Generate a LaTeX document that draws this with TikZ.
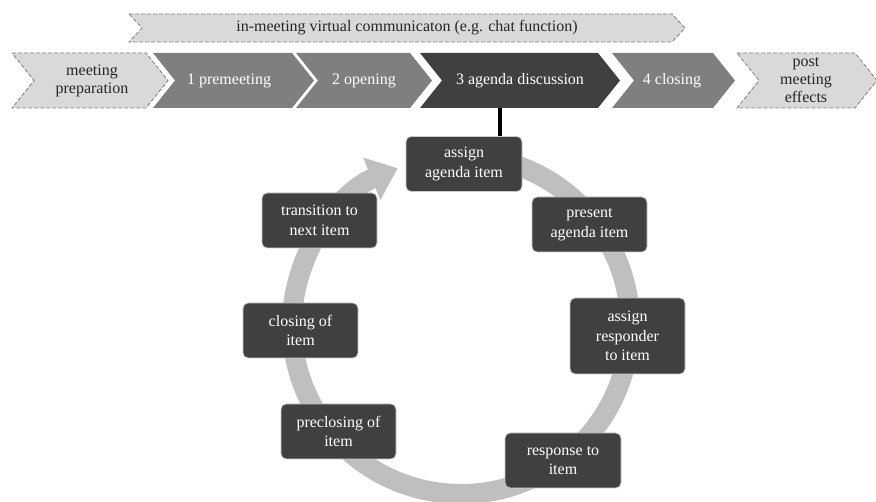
\documentclass[tikz,border=0pt]{standalone}
\usepackage{fontspec}
\setmainfont{Liberation Serif}
\usetikzlibrary{arrows.meta}
\definecolor{lightg}{HTML}{D9D9D9}
\definecolor{midg}{HTML}{7F7F7F}
\definecolor{darkg}{HTML}{404040}
\definecolor{ringg}{HTML}{BFBFBF}
\definecolor{txtdark}{HTML}{262626}
\newcommand{\mychev}[3]{%
  \path[#1] (#2,449) -- (#3,449) -- ({#3+22},421.5) -- (#3,394) -- (#2,394) -- ({#2+22},421.5) -- cycle;}
\begin{document}
\begin{tikzpicture}[x=1pt,y=1pt,
  stepbox/.style={draw=white!80!black, line width=0.8pt, fill=darkg, rounded corners=5pt,
    text=white, minimum width=115pt, minimum height=55pt, align=center,
    font=\fontsize{16}{19.5}\selectfont, inner sep=0pt},
  chevtext/.style={align=center, font=\fontsize{16}{18}\selectfont, inner sep=0pt},
  lightchev/.style={fill=lightg, draw=midg, line width=0.8pt, dash pattern=on 4pt off 2pt},
  midchev/.style={fill=midg},
  darkchev/.style={fill=darkg},
  ring/.style={draw=ringg, line width=20pt}]
\useasboundingbox (0,0) rectangle (876,502);

% top banner
\path[lightchev] (129,488) -- (672,488) -- (685,474) -- (672,460) -- (129,460) -- (142,474) -- cycle;
\node[chevtext, text=txtdark] (chat) at (407,474) {in-meeting virtual communicaton (e.g. chat function)};

% process row
\mychev{lightchev}{12}{146}
\mychev{midchev}{153}{292}
\mychev{midchev}{296}{410}
\mychev{darkchev}{420}{598}
\mychev{midchev}{612}{713}
\mychev{lightchev}{737}{855}

\node[chevtext, text=txtdark] (prep) at (92,421.5) {meeting\\preparation};
\node[chevtext, text=white] (pre) at (229,421.5) {1 premeeting};
\node[chevtext, text=white] (open) at (364,421.5) {2 opening};
\node[chevtext, text=white] (agenda) at (520,421.5) {3 agenda discussion};
\node[chevtext, text=white] (closing) at (672,421.5) {4 closing};
\node[chevtext, text=txtdark] (post) at (806,421.5) {post\\meeting\\effects};

% cycle ring
\draw[ring, -{Triangle[length=28pt,width=44pt]}] (461,177) ++(80:169)
  arc[start angle=80, end angle=-248, radius=169];

% boxes
\node[stepbox, minimum width=116pt] (assign) at (464,338) {assign\\agenda item};
\node[stepbox] (present) at (589.5,277.5) {present\\agenda item};
\node[stepbox, minimum height=76pt] (responder) at (627.5,166) {assign\\responder\\to item};
\node[stepbox, minimum width=116pt] (response) at (563,41.5) {response to\\item};
\node[stepbox] (preclosing) at (338.5,70.5) {preclosing of\\item};
\node[stepbox] (closeitem) at (300.5,171.5) {closing of\\item};
\node[stepbox] (transition) at (319.5,281.5) {transition to\\next item};

% connector
\coordinate (agb) at (500,394);
\draw[line width=4pt] (agb) -- (agb |- assign.north);
\end{tikzpicture}
\end{document}
